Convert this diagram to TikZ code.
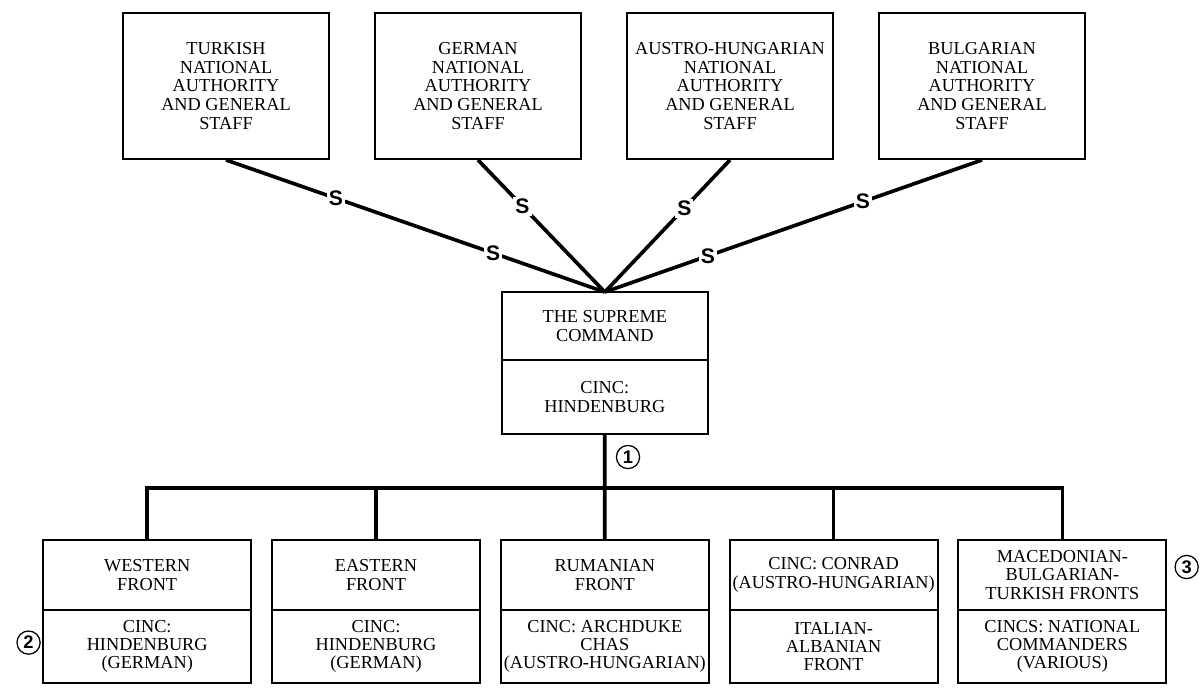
\documentclass[tikz,border=0pt]{standalone}
\usepackage{fontspec}
\setmainfont{Liberation Serif}
\newfontfamily\markfont{Liberation Sans}
\usetikzlibrary{positioning}

\begin{document}
\begin{tikzpicture}[node distance=6.3cm]

    \tikzstyle{staff} = [rectangle, minimum width=5.15cm, minimum height=3.65cm, align=center, draw=black, line width=1.4pt, font=\fontsize{13}{13.2}\selectfont]
    \tikzstyle{front} = [rectangle, minimum width=5.2cm, minimum height=1.75cm, align=center, draw=black, line width=1.4pt, inner sep=2pt, outer sep=0pt, font=\fontsize{13}{13}\selectfont]
    \tikzstyle{cinc} = [front, minimum height=1.83cm]
    \tikzstyle{link} = [line width=2.6pt]
    \tikzstyle{sign} = [fill=white, inner sep=1.5pt, font=\markfont\bfseries\fontsize{15}{15}\selectfont]
    \tikzstyle{num} = [circle, draw=black, line width=0.9pt, inner sep=0pt, minimum size=0.58cm, font=\markfont\bfseries\fontsize{13}{13}\selectfont]

    \useasboundingbox (0,0) rectangle (30.025,-17.2);

    % national staffs
    \node[staff] (turk) at (5.65,-2.15) {TURKISH\\NATIONAL\\AUTHORITY\\AND GENERAL\\STAFF};
    \node[staff, right of=turk] (germ) {GERMAN\\NATIONAL\\AUTHORITY\\AND GENERAL\\STAFF};
    \node[staff, right of=germ] (aust) {AUSTRO-HUNGARIAN\\NATIONAL\\AUTHORITY\\AND GENERAL\\STAFF};
    \node[staff, right of=aust] (bulg) {BULGARIAN\\NATIONAL\\AUTHORITY\\AND GENERAL\\STAFF};

    % supreme command
    \node[front, minimum width=5.15cm, minimum height=1.7cm] (sup) at (15.12,-8.15) {THE SUPREME\\COMMAND};
    \node[front, minimum width=5.15cm, minimum height=1.85cm, below=0pt of sup] (supc) {CINC:\\HINDENBURG};

    % fronts
    \node[front] (west) at (3.68,-14.375) {WESTERN\\FRONT};
    \node[cinc, below=0pt of west] (westc) {CINC:\\HINDENBURG\\(GERMAN)};
    \node[front, right of=west, xshift=-0.58cm] (east) {EASTERN\\FRONT};
    \node[cinc, below=0pt of east] (eastc) {CINC:\\HINDENBURG\\(GERMAN)};
    \node[front, right of=east, xshift=-0.58cm] (rum) {RUMANIAN\\FRONT};
    \node[cinc, below=0pt of rum] (rumc) {CINC: ARCHDUKE\\CHAS\\(AUSTRO-HUNGARIAN)};
    \node[front, right of=rum, xshift=-0.58cm] (ital) {CINC: CONRAD\\(AUSTRO-HUNGARIAN)};
    \node[cinc, below=0pt of ital] (italc) {ITALIAN-\\ALBANIAN\\FRONT};
    \node[front, right of=ital, xshift=-0.58cm] (mac) {MACEDONIAN-\\BULGARIAN-\\TURKISH FRONTS};
    \node[cinc, below=0pt of mac] (macc) {CINCS: NATIONAL\\COMMANDERS\\(VARIOUS)};

    \coordinate (bus) at (0,-12.2);

    \draw[link] (turk.south) -- node[sign, pos=0.29] {S} node[sign, pos=0.705] {S} (sup.north);
    \draw[link] (germ.south) -- node[sign, pos=0.35] {S} (sup.north);
    \draw[link] (aust.south) -- node[sign, pos=0.365] {S} (sup.north);
    \draw[link] (bulg.south) -- node[sign, pos=0.316] {S} node[sign, pos=0.727] {S} (sup.north);

    \draw[link] (supc.south) -- (rum.north);
    \draw[link] (west.north) |- (bus -| mac.north) -- (mac.north);
    \draw[link] (east.north) -- (east.north |- bus);
    \draw[link] (ital.north) -- (ital.north |- bus);

    \node[num] (n1) at (15.7,-11.425) {1};
    \node[num, left=0.06cm of westc, yshift=0.1cm] (n2) {2};
    \node[num, right=0.2cm of mac, yshift=0.2cm] (n3) {3};

\end{tikzpicture}
\end{document}
